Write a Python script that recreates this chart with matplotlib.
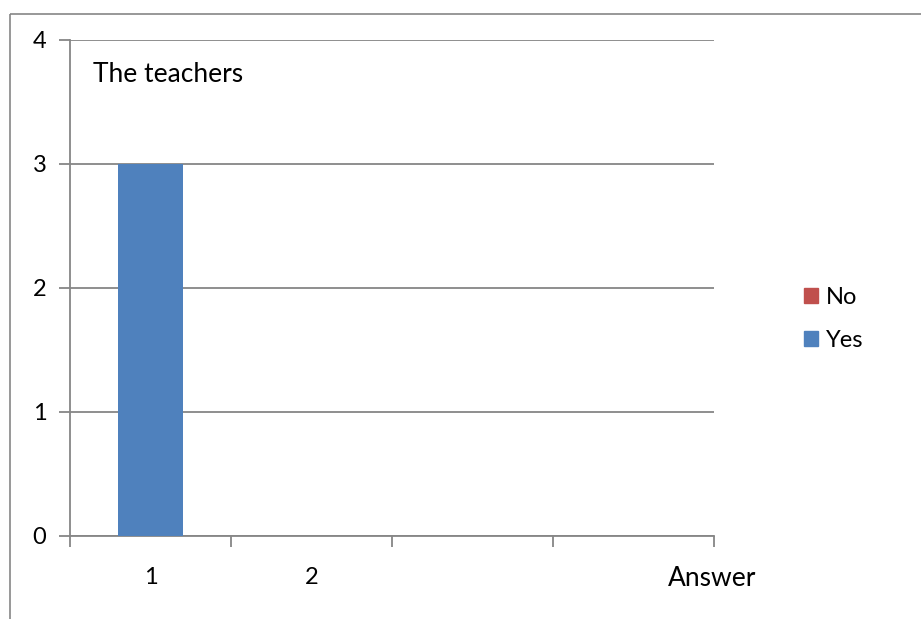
import matplotlib
matplotlib.use("Agg")
import matplotlib.pyplot as plt
from matplotlib.patches import Rectangle, Patch

categories = ["1", "2", "", ""]
yes_values = [3, 0, 0, 0]
no_values = [0, 0, 0, 0]
y_ticks = [0, 1, 2, 3, 4]

W, H = 921, 619
fig = plt.figure(figsize=(W / 100, H / 100), dpi=100)
plt.rcParams["font.family"] = ["Lato", "DejaVu Sans"]

# chart frame
fig.patches.append(Rectangle((9.5 / W, 1 - 13.5 / H), 1.2, -1.2, transform=fig.transFigure,
                             fill=False, edgecolor="#868686", linewidth=1.2))

left, right, top, bottom = 70, 714, 40, 536
ax = fig.add_axes([left / W, 1 - bottom / H, (right - left) / W, (bottom - top) / H])

x = list(range(len(categories)))
blue = "#4F81BD"
red = "#C0504D"
ax.bar(x, yes_values, width=0.4, color=blue, zorder=3)
ax.bar(x, no_values, width=0.4, bottom=yes_values, color=red, zorder=3)

ax.set_xlim(-0.5, len(categories) - 0.5)
ax.set_ylim(0, 4)
ax.set_yticks(y_ticks)
ax.set_yticklabels([str(v) for v in y_ticks], fontsize=17)
ax.yaxis.grid(True, color="#868686", linewidth=1.3, zorder=0)

ax.set_xticks([i - 0.5 for i in range(len(categories) + 1)])
ax.set_xticklabels([])
ax.set_xticks(x, minor=True)
ax.set_xticklabels(categories, minor=True, fontsize=17)
ax.tick_params(axis="x", which="major", length=8, width=1.3, color="#868686", direction="out")
ax.tick_params(axis="x", which="minor", length=0, pad=22)
ax.tick_params(axis="y", length=8, width=1.3, color="#868686", pad=9)

for s in ["top", "right"]:
    ax.spines[s].set_visible(False)
for s in ["left", "bottom"]:
    ax.spines[s].set_color("#868686")
    ax.spines[s].set_linewidth(1.3)

ax.text(93 / W, 1 - 74 / H, "The teachers", transform=fig.transFigure,
        fontsize=19, va="center", ha="left")
ax.text(712 / W, 1 - 578 / H, "Answer", transform=fig.transFigure,
        fontsize=19, va="center", ha="center")

handles = [Patch(color=red, label="No"), Patch(color=blue, label="Yes")]
fig.legend(handles=handles, loc="center left", bbox_to_anchor=(783 / W, 1 - 319 / H),
           frameon=False, fontsize=17, handlelength=0.6, handleheight=0.6,
           handletextpad=0.3, labelspacing=0.95)

fig.savefig("out.png", dpi=100)
